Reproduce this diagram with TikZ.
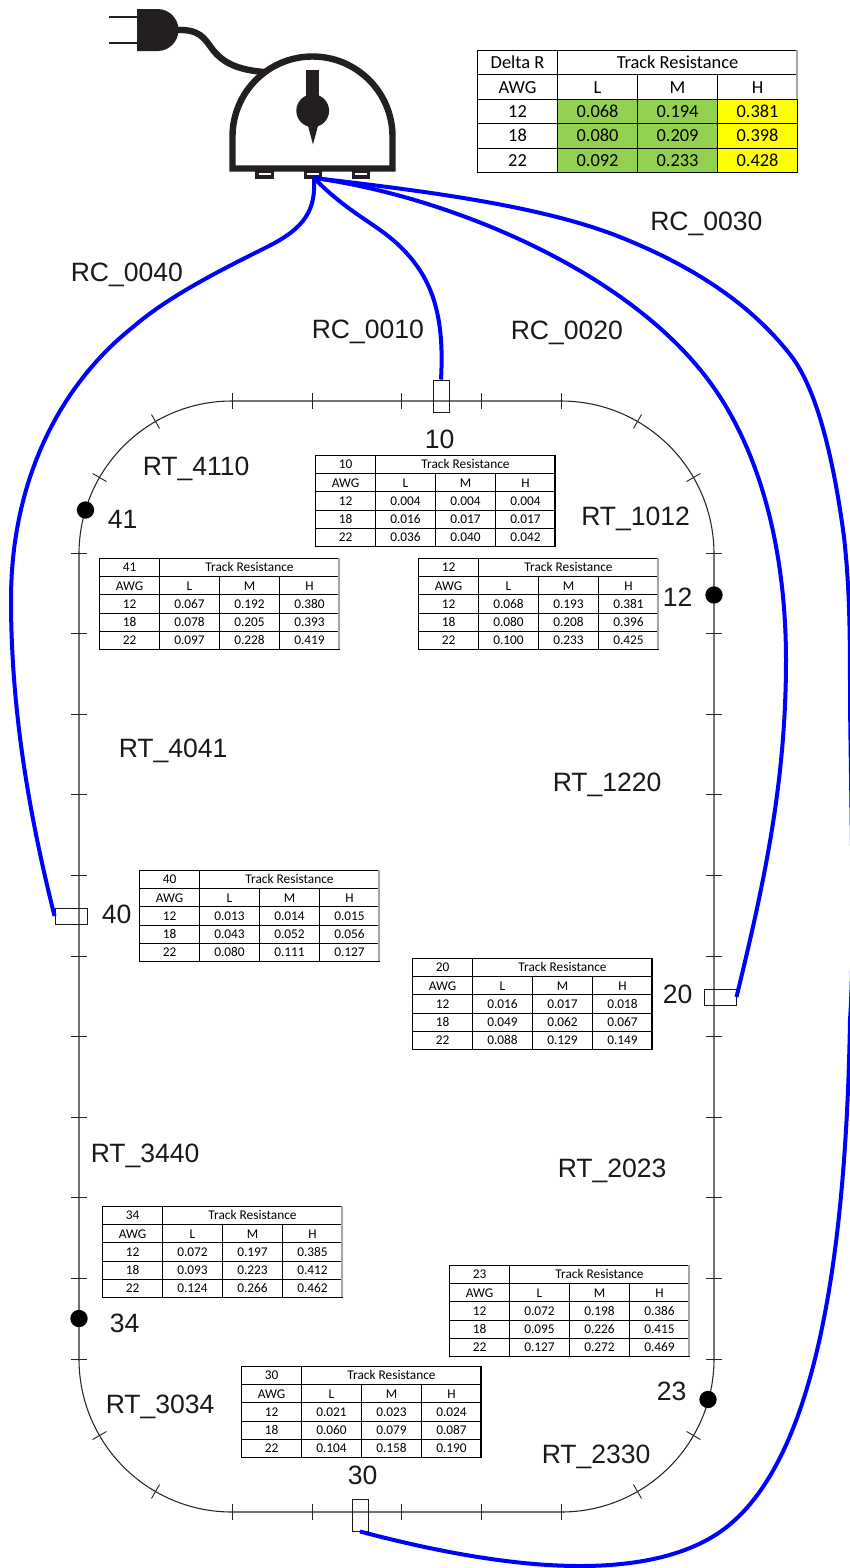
\documentclass[tikz,border=0pt]{standalone}
\usepackage{fontspec}
\setmainfont{Liberation Sans}
\newfontfamily\cellfont{Carlito}
\usetikzlibrary{calc}
\definecolor{cableBlue}{HTML}{0000FF}
\definecolor{inkDark}{HTML}{231F20}
\definecolor{cellGreen}{HTML}{92D050}
\definecolor{cellYellow}{HTML}{FFFF00}
\definecolor{edgeGray}{HTML}{A6A6A6}
\tikzset{
  cell/.style={rectangle,draw=black,line width=0.8pt,inner sep=0pt,anchor=north west,minimum width=45pt,minimum height=13.65pt,text height=6.4pt,text depth=0pt,font=\cellfont\fontsize{10}{11}\selectfont},
  bigcell/.style={cell,minimum width=60pt,minimum height=18.3pt,text height=8.8pt,font=\cellfont\fontsize{13.8}{15}\selectfont},
  track/.style={rectangle,draw=black!85,line width=0.8pt,rounded corners=114.75pt,inner sep=0pt,minimum width=476.25pt,minimum height=833.25pt},
  tick/.style={draw=black!85,line width=0.7pt},
  dot/.style={circle,fill=black,inner sep=0pt,minimum size=13pt},
  jackv/.style={rectangle,draw=black!90,line width=0.7pt,inner sep=0pt,minimum width=12pt,minimum height=24pt},
  jackh/.style={rectangle,draw=black!90,line width=0.7pt,inner sep=0pt,minimum width=24pt,minimum height=12pt},
  foot/.style={rectangle,draw=inkDark,line width=2.6pt,fill=white,inner sep=0pt,minimum width=11.6pt,minimum height=4.5pt},
  cable/.style={draw=cableBlue,line width=3pt},
  inkline/.style={draw=inkDark,line width=4.8pt},
  lbl/.style={anchor=base west,inner sep=0pt,text=black!90,font=\fontsize{19.9}{22}\selectfont},
}
\newcommand{\restable}[5][black]{%
  \begin{scope}[shift={(#3)}]
    \node[cell] (#2-id) at (0,0) {#4};
    \node[cell,minimum width=135pt] (#2-title) at (60,0) {Track Resistance};
    \node[cell] (#2-awg) at (0,18.2) {AWG};
    \foreach \c [count=\i from 1] in {L,M,H}
      \node[cell] (#2-\c) at (60*\i,18.2) {\c};
    \foreach \awg/\lo/\mi/\hi [count=\r from 2] in {#5} {
      \node[cell] (#2-\awg) at (0,18.2*\r) {\awg};
      \node[cell] (#2-\awg-l) at (60,18.2*\r) {\lo};
      \node[cell] (#2-\awg-m) at (120,18.2*\r) {\mi};
      \node[cell] (#2-\awg-h) at (180,18.2*\r) {\hi};
    }
    \draw[#1,line width=0.8pt] (240,0) -- (240,91);
  \end{scope}}
\begin{document}
\begin{tikzpicture}[x=0.75pt,y=-0.75pt]
  \useasboundingbox (0,0) rectangle (850,1568);

  % plug and cord
  \draw[draw=inkDark,line width=1.6pt] (109,17) -- (137,17) (109,43) -- (137,43);
  \fill[inkDark] (137,9) -- (157.5,9) arc[start angle=270,end angle=450,radius=21] -- (137,51) -- cycle;
  \coordinate (plugout) at (176,30);
  \coordinate (cordin) at (264,72);
  \draw[inkline] (plugout) .. controls (200,29) and (204,38) .. (213,50) .. controls (224,64) and (240,70) .. (cordin);

  % resistance meter
  \node[foot] (footl) at (264.5,174) {};
  \node[foot] (footm) at (313,174) {};
  \node[foot] (footr) at (361,174) {};
  \draw[inkline,fill=white,line join=miter] (232.5,168.5) -- (232.5,136.5) arc[start angle=180,end angle=360,radius=80] -- (392.5,168.5) -- cycle;
  \fill[inkDark] (306,69.5) rectangle (319.3,100);
  \fill[inkDark] (312.7,110.7) circle[radius=16.4];
  \fill[inkDark] (307.5,124) -- (313,144.5) -- (318.5,124) -- cycle;
  \coordinate (port) at (314,178);

  % summary table
  \begin{scope}[shift={(477,50)}]
    \node[bigcell] (dl-id) at (0,0) {Delta R};
    \node[bigcell,minimum width=180pt] (dl-title) at (80,0) {Track Resistance};
    \node[bigcell] (dl-awg) at (0,24.4) {AWG};
    \foreach \c [count=\i from 1] in {L,M,H}
      \node[bigcell] (dl-\c) at (80*\i,24.4) {\c};
    \foreach \awg/\lo/\mi/\hi [count=\r from 2] in {12/0.068/0.194/0.381,18/0.080/0.209/0.398,22/0.092/0.233/0.428} {
      \node[bigcell] (dl-\awg) at (0,24.4*\r) {\awg};
      \node[bigcell,fill=cellGreen] (dl-\awg-l) at (80,24.4*\r) {\lo};
      \node[bigcell,fill=cellGreen] (dl-\awg-m) at (160,24.4*\r) {\mi};
      \node[bigcell,fill=cellYellow] (dl-\awg-h) at (240,24.4*\r) {\hi};
    }
    \draw[edgeGray,line width=0.8pt] (320,0) -- (320,48.8);
  \end{scope}

  % track with ticks
  \node[track] (track) at (396.5,956.5) {};
  \coordinate (ctl) at (232,554);
  \coordinate (ctr) at (561,554);
  \coordinate (cbl) at (232,1359);
  \coordinate (cbr) at (561,1359);
  \foreach \x in {232,312,401,481,561} {
    \draw[tick] (\x,393) -- (\x,409);
    \draw[tick] (\x,1504) -- (\x,1520);
  }
  \foreach \k in {0,...,10} {
    \draw[tick] (71,553+80.6*\k) -- (87,553+80.6*\k);
    \draw[tick] (706,553+80.6*\k) -- (722,553+80.6*\k);
  }
  \foreach \c/\a in {ctl/210,ctl/240,ctr/300,ctr/330,cbr/30,cbr/60,cbl/120,cbl/150}
    \draw[tick] ($(\c)+(\a:145)$) -- ($(\c)+(\a:161)$);

  \node[dot] (n41) at (85.5,510) {};
  \node[dot] (n12) at (714,595) {};
  \node[dot] (n34) at (79,1318.5) {};
  \node[dot] (n23) at (708,1399.5) {};

  \node[jackv] (j10) at (441,396) {};
  \node[jackv] (j30) at (360,1515) {};
  \node[jackh] (j40) at (71,916) {};
  \node[jackh] (j20) at (720,997) {};

  % tables
  \restable{t10}{315,455}{10}{12/0.004/0.004/0.004,18/0.016/0.017/0.017,22/0.036/0.040/0.042}
  \restable[edgeGray]{t41}{99,558}{41}{12/0.067/0.192/0.380,18/0.078/0.205/0.393,22/0.097/0.228/0.419}
  \restable[edgeGray]{t12}{418,558}{12}{12/0.068/0.193/0.381,18/0.080/0.208/0.396,22/0.100/0.233/0.425}
  \restable[edgeGray]{t40}{139,870}{40}{12/0.013/0.014/0.015,18/0.043/0.052/0.056,22/0.080/0.111/0.127}
  \restable{t20}{412,958}{20}{12/0.016/0.017/0.018,18/0.049/0.062/0.067,22/0.088/0.129/0.149}
  \restable[edgeGray]{t34}{102,1206}{34}{12/0.072/0.197/0.385,18/0.093/0.223/0.412,22/0.124/0.266/0.462}
  \restable[edgeGray]{t23}{449,1265}{23}{12/0.072/0.198/0.386,18/0.095/0.226/0.415,22/0.127/0.272/0.469}
  \restable{t30}{241,1366}{30}{12/0.021/0.023/0.024,18/0.060/0.079/0.087,22/0.104/0.158/0.190}

  % cables
  \draw[cable] (port) .. controls (316,210) and (305,228) .. (267,247)
    .. controls (225,268) and (170,295) .. (133,327)
    .. controls (60,385) and (11,480) .. (11,600)
    .. controls (11,720) and (33,830) .. (j40.west);
  \draw[cable] (port) .. controls (345,210) and (372,222) .. (393,240)
    .. controls (430,272) and (445,310) .. (j10.north);
  \draw[cable] (port) .. controls (440,195) and (620,265) .. (706,377)
    .. controls (760,447) and (786,550) .. (786,660)
    .. controls (786,780) and (765,880) .. (j20.east);
  \draw[cable] (port) .. controls (416,190) and (540,205) .. (620,237)
    .. controls (695,267) and (752,305) .. (792,357)
    .. controls (818,392) and (834,462) .. (844,537)
    .. controls (850,590) and (850,640) .. (850,700)
    .. controls (851,800) and (855,950) .. (850,1020)
    .. controls (846,1260) and (815,1470) .. (717,1534)
    .. controls (680,1558) and (630,1566) .. (580,1566)
    .. controls (510,1566) and (430,1550) .. (j30.south);

  % labels
  \node[lbl] (rc40) at (70.5,281) {RC\_0040};
  \node[lbl] (rc10) at (311.5,338) {RC\_0010};
  \node[lbl] (rc20) at (510.5,339) {RC\_0020};
  \node[lbl] (rc30) at (650,230) {RC\_0030};
  \node[lbl] (rt4110) at (142.5,475) {RT\_4110};
  \node[lbl] (rt1012) at (581,525) {RT\_1012};
  \node[lbl] (rt4041) at (118.5,757) {RT\_4041};
  \node[lbl] (rt1220) at (552.5,791) {RT\_1220};
  \node[lbl] (rt3440) at (90.5,1162) {RT\_3440};
  \node[lbl] (rt2023) at (557.5,1177) {RT\_2023};
  \node[lbl] (rt3034) at (105.5,1413) {RT\_3034};
  \node[lbl] (rt2330) at (541.5,1463) {RT\_2330};
  \node[lbl] (l10) at (424.5,448) {10};
  \node[lbl] (l41) at (107.5,528) {41};
  \node[lbl] (l12) at (662.5,606) {12};
  \node[lbl] (l40) at (101.5,923) {40};
  \node[lbl] (l20) at (662.5,1003) {20};
  \node[lbl] (l34) at (109.5,1332) {34};
  \node[lbl] (l30) at (347.5,1484) {30};
  \node[lbl] (l23) at (656.5,1400) {23};
\end{tikzpicture}
\end{document}
